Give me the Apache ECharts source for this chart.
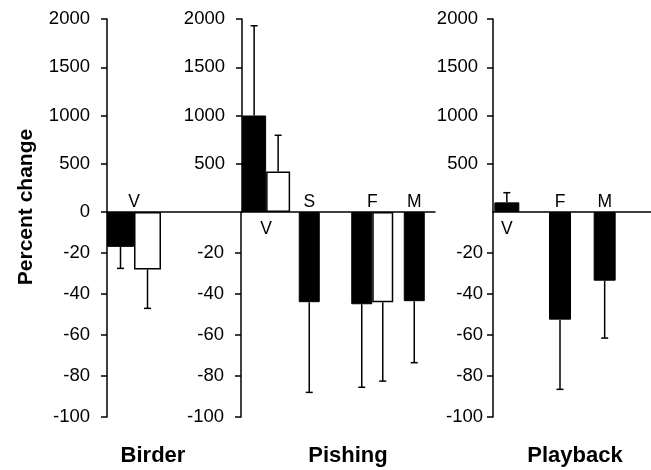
<!DOCTYPE html>
<html>
<head>
<meta charset="utf-8">
<script src="https://cdn.jsdelivr.net/npm/echarts@6/dist/echarts.min.js"></script>
<style>html,body{margin:0;padding:0;background:#fff;}#c{width:651px;height:470px;}</style>
</head>
<body>
<div id="c"></div>
<script>
// ---- data ----
const panelNames = ['Birder', 'Pishing', 'Playback'];

const birderCats = ['V'];
const birderBlack = [-17];
const birderBlackErr = [10.5];
const birderWhite = [-28];
const birderWhiteErr = [19];

const pishingCats = ['V', 'S', 'F', 'M'];
const pishingBlack = [1000, -44, -45, -43.5];
const pishingBlackErr = [930, 44, 40.5, 30];
const pishingWhite = [420, null, -44, null];
const pishingWhiteErr = [375, null, 38.5, null];

const playbackCats = ['V', 'F', 'M'];
const playbackBlack = [100, -52.5, -33.5];
const playbackBlackErr = [100, 34, 28];
const playbackWhite = [null, null, null];
const playbackWhiteErr = [null, null, null];

const upperAxis = [0, 2000, 500];   // min, max, interval
const lowerAxis = [-100, 0, 20];    // min, max, interval

const yTitle = 'Percent change';

// ---- layout (positions / styles only) ----
const FONT = '"Liberation Sans", Arial, Helvetica, sans-serif';
const TOP = 19, MID = 212, BOT = 417;
const layout = [
  { upper: {left: 107, width: 135, bw: 27, gap: '0%', lm: 17}, lower: {left: 107, width: 54, bw: 27, gap: '0%', lm: 17}, tx: 153, zeroLabel: true },
  { upper: {left: 242, width: 193, bw: 24, gap: '0%', lm: 17}, lower: {left: 241, width: 210, bw: 21, gap: '0%', lm: 17}, tx: 348, zeroLabel: false },
  { upper: {left: 493, width: 158, bw: 25, gap: '0%', lm: 15}, lower: {left: 493, width: 134, bw: 22, gap: '-100%', lm: 10}, tx: 575, zeroLabel: false }
];

const panels = [
  {cats: birderCats, black: birderBlack, blackErr: birderBlackErr, white: birderWhite, whiteErr: birderWhiteErr},
  {cats: pishingCats, black: pishingBlack, blackErr: pishingBlackErr, white: pishingWhite, whiteErr: pishingWhiteErr},
  {cats: playbackCats, black: playbackBlack, blackErr: playbackBlackErr, white: playbackWhite, whiteErr: playbackWhiteErr}
];

const grid = [], xAxis = [], yAxis = [], series = [];

function inPart(v, part) {
  if (v == null) return false;
  return part === 'upper' ? v >= 0 : v < 0;
}

function errRender(offsetPx) {
  return function (params, api) {
    const idx = api.value(0), m = api.value(1), e = api.value(2);
    const end = m + (m >= 0 ? e : -e);
    const p0 = api.coord([idx, m]);
    const p1 = api.coord([idx, end]);
    const x = p0[0] + offsetPx;
    const st = {stroke: '#000', lineWidth: 1.5};
    return {type: 'group', children: [
      {type: 'line', shape: {x1: x, y1: p0[1], x2: x, y2: p1[1]}, style: st},
      {type: 'line', shape: {x1: x - 3.5, y1: p1[1], x2: x + 3.5, y2: p1[1]}, style: st}
    ]};
  };
}

panels.forEach((p, i) => {
  ['upper', 'lower'].forEach((part, j) => {
    const L = layout[i][part];
    const gi = grid.length;
    const isUp = part === 'upper';
    grid.push({left: L.left, width: L.width, top: isUp ? TOP : MID, height: isUp ? MID - TOP : BOT - MID});
    const bPart = p.black.map(v => inPart(v, part) ? v : null);
    const wPart = p.white.map(v => inPart(v, part) ? v : null);
    const paired = L.gap === '0%';
    const labelFmt = (val, idx) => {
      const hb = bPart[idx] != null, hw = wPart[idx] != null;
      if (!hb && !hw) return '';
      if (paired && hb && !hw) return '{l|' + val + '}';
      if (paired && hw && !hb) return '{r|' + val + '}';
      return '{n|' + val + '}';
    };
    const ts = {fontSize: 17.5, fontFamily: FONT, color: '#000'};
    xAxis.push({
      type: 'category', gridIndex: gi, data: p.cats,
      position: isUp ? 'bottom' : 'top',
      axisLine: {show: isUp, onZero: false, lineStyle: {color: '#000', width: 1.5}},
      axisTick: {show: false},
      splitLine: {show: false},
      axisLabel: {
        interval: 0, margin: isUp ? 8 : 1, formatter: labelFmt,
        rich: {
          n: Object.assign({}, ts),
          l: Object.assign({padding: [0, L.bw, 0, 0]}, ts),
          r: Object.assign({padding: [0, 0, 0, L.bw]}, ts)
        }
      }
    });
    const ax = isUp ? upperAxis : lowerAxis;
    yAxis.push({
      type: 'value', gridIndex: gi, min: ax[0], max: ax[1], interval: ax[2],
      axisLine: {show: true, lineStyle: {color: '#000', width: 1.5}},
      axisTick: {show: true, length: 6, lineStyle: {color: '#000', width: 1.5}},
      splitLine: {show: false},
      axisLabel: {
        margin: L.lm, fontSize: 18.5, fontFamily: FONT, color: '#000',
        formatter: v => String(v),
        showMinLabel: isUp ? layout[i].zeroLabel : true,
        showMaxLabel: isUp ? true : false
      }
    });
    series.push({
      type: 'bar', xAxisIndex: gi, yAxisIndex: gi, data: bPart,
      barWidth: L.bw, barGap: L.gap, silent: true,
      itemStyle: {color: '#000', borderColor: '#000', borderWidth: 1}
    });
    series.push({
      type: 'bar', xAxisIndex: gi, yAxisIndex: gi, data: wPart,
      barWidth: L.bw, barGap: L.gap, silent: true,
      itemStyle: {color: '#fff', borderColor: '#000', borderWidth: 1.5}
    });
    const bErr = [], wErr = [];
    p.cats.forEach((c, k) => {
      if (bPart[k] != null && p.blackErr[k] != null) bErr.push([k, bPart[k], p.blackErr[k]]);
      if (wPart[k] != null && p.whiteErr[k] != null) wErr.push([k, wPart[k], p.whiteErr[k]]);
    });
    const off = paired ? L.bw / 2 : 0;
    series.push({type: 'custom', xAxisIndex: gi, yAxisIndex: gi, data: bErr, encode: {x: 0, y: 1}, renderItem: errRender(-off), silent: true, z: 5});
    series.push({type: 'custom', xAxisIndex: gi, yAxisIndex: gi, data: wErr, encode: {x: 0, y: 1}, renderItem: errRender(off), silent: true, z: 5});
  });
});

const graphic = panelNames.map((n, i) => ({
  type: 'text', x: layout[i].tx, y: 456, silent: true,
  style: {text: n, fontSize: 22, fontWeight: 'bold', fontFamily: FONT, fill: '#000', align: 'center', verticalAlign: 'middle'}
}));
graphic.push({
  type: 'text', x: 26, y: 207, rotation: Math.PI / 2, silent: true,
  style: {text: yTitle, fontSize: 21, fontWeight: 'bold', fontFamily: FONT, fill: '#000', align: 'center', verticalAlign: 'middle'}
});

const chart = echarts.init(document.getElementById('c'), null, {renderer: 'canvas'});
chart.setOption({
  animation: false,
  backgroundColor: '#fff',
  grid, xAxis, yAxis, series, graphic
});
</script>
</body>
</html>
